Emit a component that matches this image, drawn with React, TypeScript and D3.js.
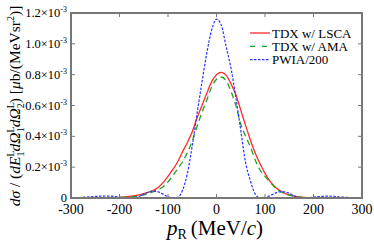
import React from 'react'
import * as d3 from 'd3'

const W = 374
const H = 244
const margin = { left: 71, top: 13, right: 12, bottom: 46 }

// momentum grid (MeV/c) and cross sections (10^-3 μb/(MeV sr^2))
const pLsca = [-300, -250, -220, -200, -180, -160, -150, -140, -130, -120, -110, -100, -90, -80, -70, -60, -50, -40, -30, -20, -10, 0, 10, 20, 30, 40, 50, 60, 70, 80, 90, 100, 110, 120, 130, 140, 150, 160, 180, 200, 250, 300]
const lsca = [0, 0.001, 0.002, 0.004, 0.01, 0.02, 0.028, 0.038, 0.05, 0.07, 0.1, 0.14, 0.185, 0.235, 0.3, 0.36, 0.43, 0.52, 0.6, 0.68, 0.755, 0.8, 0.815, 0.795, 0.74, 0.67, 0.57, 0.47, 0.375, 0.29, 0.22, 0.16, 0.11, 0.075, 0.05, 0.032, 0.02, 0.012, 0.004, 0.0015, 0, 0]

const pAma = [-300, -250, -200, -180, -160, -150, -140, -130, -120, -110, -100, -90, -80, -70, -60, -50, -40, -30, -20, -10, 0, 10, 20, 30, 40, 50, 60, 70, 80, 90, 100, 110, 120, 130, 140, 150, 160, 180, 200, 250, 300]
const ama = [0, 0.0005, 0.002, 0.006, 0.013, 0.02, 0.03, 0.041, 0.055, 0.073, 0.105, 0.145, 0.19, 0.235, 0.295, 0.37, 0.465, 0.555, 0.635, 0.72, 0.77, 0.785, 0.76, 0.69, 0.6, 0.48, 0.4, 0.33, 0.245, 0.18, 0.14, 0.105, 0.07, 0.045, 0.03, 0.018, 0.01, 0.003, 0.001, 0, 0]

const pPwia = [-300, -290, -280, -260, -240, -230, -220, -200, -190, -180, -170, -160, -150, -140, -130, -120, -110, -100, -90, -80, -70, -60, -50, -40, -30, -20, -10, 0, 10, 20, 30, 40, 50, 60, 70, 80, 90, 100, 110, 120, 130, 140, 150, 160, 170, 180, 190, 200, 220, 230, 240, 260, 280, 300]
const pwia = [0, 0.001, 0.003, 0.008, 0.012, 0.013, 0.012, 0.006, 0.002, 0, 0.002, 0.01, 0.025, 0.038, 0.045, 0.04, 0.025, 0.008, 0, 0.005, 0.05, 0.16, 0.34, 0.55, 0.75, 0.94, 1.09, 1.16, 1.12, 0.98, 0.84, 0.65, 0.44, 0.23, 0.11, 0.025, 0, 0.003, 0.015, 0.03, 0.04, 0.04, 0.03, 0.015, 0.004, 0, 0.002, 0.006, 0.011, 0.012, 0.011, 0.006, 0.002, 0]

const xTicks = [-300, -200, -100, 0, 100, 200, 300]
const yTicks = [0, 0.2, 0.4, 0.6, 0.8, 1.0, 1.2]

const series = [
  { name: 'TDX w/ LSCA', p: pLsca, v: lsca, color: '#ff2a2a', dash: 'none', width: 1.3 },
  { name: 'TDX w/ AMA', p: pAma, v: ama, color: '#1fa01f', dash: '6,4', width: 1.3 },
  { name: 'PWIA/200', p: pPwia, v: pwia, color: '#2633ff', dash: '2.5,1.5', width: 1.2 },
]

const serif = '"Times New Roman", "Liberation Serif", Times, serif'
const frame = '#777'

export default function App() {
  const iw = W - margin.left - margin.right
  const ih = H - margin.top - margin.bottom
  const x = d3.scaleLinear().domain([-300, 300]).range([margin.left, margin.left + iw])
  const y = d3.scaleLinear().domain([0, 1.2]).range([margin.top + ih, margin.top])

  const line = d3.line<[number, number]>()
    .x(d => x(d[0]))
    .y(d => y(d[1]))
    .curve(d3.curveMonotoneX)

  return (
    <svg width={W} height={H} style={{ position: 'absolute', left: 0, top: 0 }} fontFamily={serif}>
      <rect width={W} height={H} fill="#fff" />
      <defs>
        <clipPath id="plot">
          <rect x={margin.left} y={margin.top} width={iw} height={ih} />
        </clipPath>
      </defs>

      <g clipPath="url(#plot)">
        {series.map(s => (
          <path key={s.name}
            d={line(s.p.map((p, i) => [p, s.v[i]] as [number, number])) || ''}
            fill="none" stroke={s.color} strokeWidth={s.width}
            strokeDasharray={s.dash === 'none' ? undefined : s.dash} />
        ))}
      </g>

      {/* frame + ticks */}
      <rect x={margin.left} y={margin.top} width={iw} height={ih} fill="none" stroke={frame} strokeWidth={2} />
      {xTicks.map(t => (
        <g key={'x' + t}>
          <line x1={x(t)} x2={x(t)} y1={margin.top + ih} y2={margin.top + ih - 4} stroke={frame} strokeWidth={1} />
          <line x1={x(t)} x2={x(t)} y1={margin.top} y2={margin.top + 4} stroke={frame} strokeWidth={1} />
          <text x={x(t)} y={margin.top + ih + 16} textAnchor="middle" fontSize={14}>{t}</text>
        </g>
      ))}
      {yTicks.map(t => (
        <g key={'y' + t}>
          <line x1={margin.left} x2={margin.left + 4} y1={y(t)} y2={y(t)} stroke={frame} strokeWidth={1} />
          <line x1={margin.left + iw} x2={margin.left + iw - 4} y1={y(t)} y2={y(t)} stroke={frame} strokeWidth={1} />
          <text x={margin.left - 4} y={y(t) + 4} textAnchor="end" fontSize={12.5}>
            {t === 0 ? '0' : (
              <>
                {d3.format('.1f')(t)}×10
                <tspan fontSize={8} dy={-5}>-3</tspan>
              </>
            )}
          </text>
        </g>
      ))}

      {/* x axis title */}
      <text x={215} y={235} textAnchor="middle" fontSize={21}>
        <tspan fontStyle="italic">p</tspan>
        <tspan fontSize={14} dy={4}>R</tspan>
        <tspan dy={-4} dx={4}>(MeV/</tspan>
        <tspan fontStyle="italic">c</tspan>
        <tspan>)</tspan>
      </text>

      {/* y axis title */}
      <text transform={`translate(20, 106) rotate(-90)`} textAnchor="middle" fontSize={15.5}>
        <tspan fontStyle="italic">dσ</tspan>
        <tspan> / (</tspan>
        <tspan fontStyle="italic">dE</tspan>
        <tspan fontSize={10} dy={-6}>L</tspan>
        <tspan fontSize={10} dx={-6} dy={10}>1</tspan>
        <tspan fontStyle="italic" dy={-4}>dΩ</tspan>
        <tspan fontSize={10} dy={-6}>L</tspan>
        <tspan fontSize={10} dx={-6} dy={10}>1</tspan>
        <tspan fontStyle="italic" dy={-4}>dΩ</tspan>
        <tspan fontSize={10} dy={-6}>L</tspan>
        <tspan fontSize={10} dx={-6} dy={10}>2</tspan>
        <tspan dy={-4}>) [</tspan>
        <tspan fontStyle="italic">μ</tspan>
        <tspan>b/(MeVsr</tspan>
        <tspan fontSize={10} dy={-6}>2</tspan>
        <tspan dy={6}>)]</tspan>
      </text>

      {/* legend */}
      {series.map((s, i) => (
        <g key={'lg' + s.name} transform={`translate(250, ${33 + i * 13.3})`}>
          <line x1={0} x2={20} y1={0} y2={0} stroke={s.color} strokeWidth={s.width}
            strokeDasharray={s.dash === 'none' ? undefined : (i === 1 ? '5,7' : s.dash)} />
          <text x={22} y={4.5} fontSize={13}>{s.name}</text>
        </g>
      ))}
    </svg>
  )
}
